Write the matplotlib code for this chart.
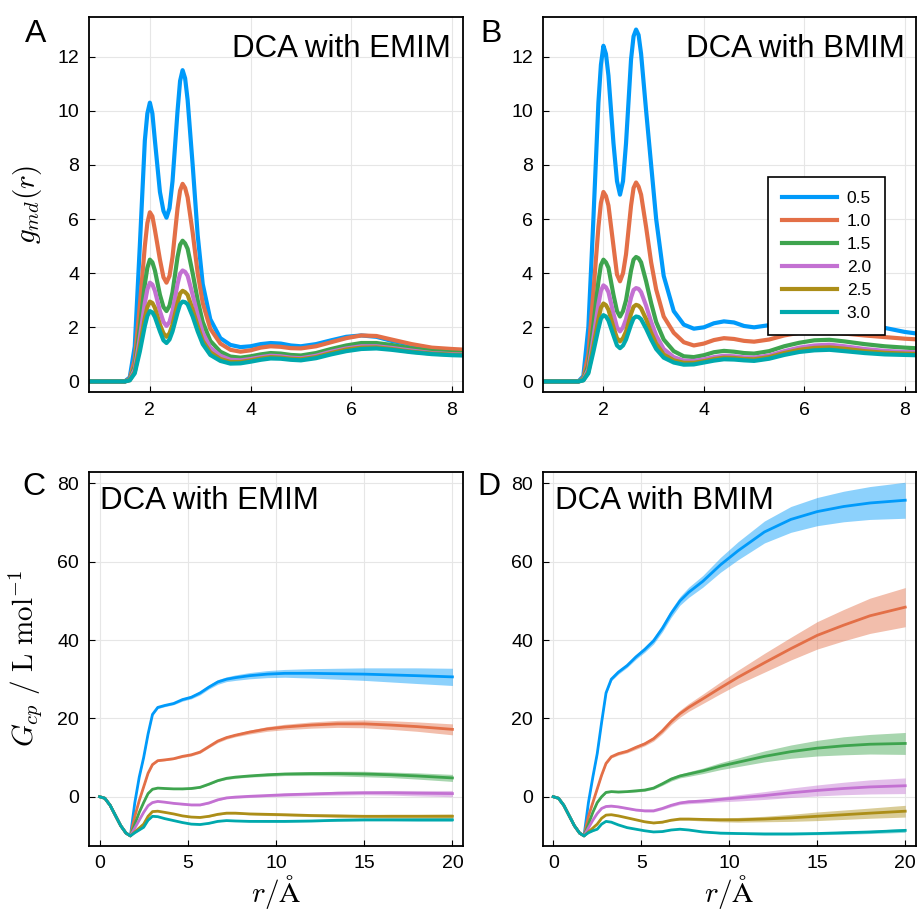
import matplotlib
matplotlib.use('Agg')
import matplotlib.pyplot as plt

plt.rcParams['font.family'] = ['Liberation Sans', 'DejaVu Sans']
plt.rcParams['mathtext.fontset'] = 'cm'

labels = ['0.5', '1.0', '1.5', '2.0', '2.5', '3.0']
colors = ['#009AFA', '#E36F47', '#3EA44E', '#C371D2', '#AC8E18', '#00A9AD']

# g(r) grid, panels A and B
r_top = [0.8, 1.4, 1.5, 1.6, 1.7, 1.8, 1.9, 1.95, 2.0, 2.05, 2.1, 2.2, 2.27, 2.33, 2.39, 2.45, 2.55, 2.6,
         2.65, 2.7, 2.75, 2.85, 2.95, 3.05, 3.2, 3.4, 3.6, 3.8, 4.0, 4.2, 4.4, 4.6, 4.8, 5.0,
         5.3, 5.6, 5.9, 6.2, 6.5, 6.8, 7.2, 7.6, 8.0, 8.2]

gA_05 = [0, 0, 0, 0.15, 1.3, 5.0, 8.9, 9.9, 10.3, 9.9, 8.9, 7.0, 6.3, 6.05, 6.4, 7.4, 10.0, 11.1, 11.5, 11.2, 10.4, 8.0, 5.4, 3.6, 2.3, 1.6, 1.35, 1.27, 1.3, 1.38, 1.42, 1.4, 1.33, 1.3, 1.38, 1.52, 1.65, 1.7, 1.65, 1.5, 1.35, 1.22, 1.15, 1.13]
gA_10 = [0, 0, 0, 0.1, 0.8, 2.8, 5.0, 5.85, 6.25, 6.1, 5.6, 4.5, 3.85, 3.65, 3.9, 4.6, 6.4, 7.05, 7.3, 7.15, 6.8, 5.5, 4.0, 2.9, 1.95, 1.4, 1.17, 1.1, 1.15, 1.25, 1.3, 1.28, 1.23, 1.22, 1.3, 1.45, 1.6, 1.7, 1.68, 1.55, 1.38, 1.25, 1.2, 1.18]
gA_15 = [0, 0, 0, 0.08, 0.55, 2.0, 3.6, 4.2, 4.5, 4.4, 4.1, 3.2, 2.75, 2.6, 2.8, 3.3, 4.6, 5.05, 5.2, 5.1, 4.9, 4.0, 3.0, 2.2, 1.5, 1.1, 0.92, 0.88, 0.93, 1.0, 1.05, 1.03, 0.98, 0.96, 1.05, 1.2, 1.33, 1.42, 1.42, 1.35, 1.22, 1.12, 1.07, 1.05]
gA_20 = [0, 0, 0, 0.06, 0.45, 1.6, 2.9, 3.4, 3.65, 3.58, 3.35, 2.6, 2.2, 2.05, 2.2, 2.6, 3.6, 3.98, 4.1, 4.05, 3.9, 3.2, 2.45, 1.8, 1.25, 0.95, 0.8, 0.78, 0.83, 0.9, 0.95, 0.93, 0.88, 0.86, 0.95, 1.1, 1.22, 1.3, 1.3, 1.24, 1.14, 1.05, 1.01, 1.0]
gA_25 = [0, 0, 0, 0.05, 0.35, 1.3, 2.35, 2.75, 2.95, 2.9, 2.72, 2.1, 1.78, 1.65, 1.78, 2.1, 2.9, 3.25, 3.35, 3.3, 3.2, 2.65, 2.05, 1.5, 1.08, 0.83, 0.72, 0.72, 0.78, 0.85, 0.9, 0.88, 0.84, 0.82, 0.9, 1.05, 1.18, 1.25, 1.26, 1.2, 1.1, 1.03, 0.99, 0.98]
gA_30 = [0, 0, 0, 0.04, 0.3, 1.1, 2.05, 2.42, 2.6, 2.55, 2.38, 1.85, 1.52, 1.42, 1.55, 1.85, 2.55, 2.85, 2.95, 2.93, 2.85, 2.4, 1.85, 1.38, 0.98, 0.76, 0.66, 0.67, 0.73, 0.8, 0.85, 0.84, 0.8, 0.78, 0.86, 1.0, 1.12, 1.2, 1.22, 1.17, 1.08, 1.01, 0.97, 0.96]

gB_05 = [0, 0, 0, 0.2, 2.0, 6.0, 10.3, 11.7, 12.4, 12.1, 11.3, 8.8, 7.4, 6.9, 7.4, 8.8, 11.9, 12.75, 13.0, 12.8, 12.1, 10.0, 8.0, 6.0, 3.9, 2.6, 2.1, 1.95, 2.0, 2.15, 2.22, 2.18, 2.05, 2.0, 2.08, 2.2, 2.3, 2.32, 2.28, 2.2, 2.08, 1.98, 1.83, 1.78]
gB_10 = [0, 0, 0, 0.12, 1.0, 3.3, 5.7, 6.6, 7.0, 6.85, 6.5, 5.0, 3.95, 3.7, 4.0, 4.7, 6.5, 7.15, 7.35, 7.2, 6.9, 5.7, 4.4, 3.4, 2.4, 1.8, 1.45, 1.33, 1.4, 1.53, 1.6, 1.57, 1.5, 1.47, 1.55, 1.7, 1.8, 1.85, 1.83, 1.77, 1.7, 1.64, 1.58, 1.56]
gB_15 = [0, 0, 0, 0.08, 0.6, 2.1, 3.7, 4.3, 4.5, 4.4, 4.2, 3.2, 2.6, 2.4, 2.6, 3.0, 4.1, 4.5, 4.6, 4.55, 4.4, 3.7, 2.9, 2.2, 1.55, 1.12, 0.93, 0.9, 0.97, 1.08, 1.13, 1.1, 1.05, 1.03, 1.12, 1.3, 1.43, 1.52, 1.54, 1.48, 1.38, 1.3, 1.25, 1.23]
gB_20 = [0, 0, 0, 0.06, 0.45, 1.6, 2.85, 3.35, 3.55, 3.48, 3.3, 2.5, 2.0, 1.85, 2.0, 2.3, 3.1, 3.38, 3.45, 3.42, 3.3, 2.8, 2.2, 1.7, 1.2, 0.9, 0.77, 0.76, 0.82, 0.9, 0.95, 0.93, 0.89, 0.88, 0.96, 1.12, 1.25, 1.33, 1.36, 1.3, 1.2, 1.13, 1.09, 1.08]
gB_25 = [0, 0, 0, 0.05, 0.35, 1.3, 2.3, 2.72, 2.88, 2.82, 2.65, 2.0, 1.6, 1.48, 1.6, 1.85, 2.5, 2.76, 2.83, 2.8, 2.7, 2.3, 1.8, 1.4, 1.0, 0.78, 0.69, 0.69, 0.75, 0.83, 0.88, 0.87, 0.83, 0.82, 0.9, 1.05, 1.17, 1.24, 1.26, 1.21, 1.12, 1.06, 1.03, 1.02]
gB_30 = [0, 0, 0, 0.04, 0.3, 1.1, 1.95, 2.32, 2.45, 2.4, 2.25, 1.7, 1.33, 1.23, 1.33, 1.55, 2.1, 2.33, 2.4, 2.38, 2.3, 1.95, 1.55, 1.2, 0.88, 0.7, 0.62, 0.63, 0.7, 0.77, 0.82, 0.81, 0.78, 0.76, 0.84, 0.98, 1.09, 1.15, 1.17, 1.12, 1.05, 1.0, 0.98, 0.97]

# KB integrals, panels C and D
r_bot = [0, 0.3, 0.6, 0.9, 1.2, 1.5, 1.75, 2.0, 2.25, 2.5, 2.75, 3.0, 3.3, 3.7, 4.2, 4.7, 5.2,
         5.7, 6.2, 6.7, 7.2, 7.7, 8.5, 9.5, 10.5, 12, 13.5, 15, 16.5, 18, 20]

GC_05 = [0, -0.4, -2.2, -4.8, -7.4, -9.3, -10.0, -1.5, 5, 10, 16, 21, 22.8, 23.3, 23.8, 24.8, 25.4, 26.5, 28, 29.3, 30.0, 30.4, 30.9, 31.3, 31.5, 31.5, 31.4, 31.3, 31.1, 30.9, 30.6]
GC_10 = [0, -0.4, -2.2, -4.8, -7.4, -9.3, -10.0, -5, -1, 2.5, 6, 8.2, 9.2, 9.4, 9.7, 10.3, 10.7, 11.4, 12.8, 14.2, 15.1, 15.7, 16.5, 17.3, 17.8, 18.3, 18.6, 18.6, 18.3, 17.9, 17.2]
GC_15 = [0, -0.4, -2.2, -4.8, -7.4, -9.3, -10.0, -7, -4, -1.5, 0.8, 1.9, 2.2, 2.1, 2.0, 2.0, 2.1, 2.4, 3.2, 4.1, 4.7, 5.0, 5.3, 5.6, 5.8, 5.9, 5.9, 5.8, 5.6, 5.3, 4.8]
GC_20 = [0, -0.4, -2.2, -4.8, -7.4, -9.3, -10.0, -8, -6, -4, -2.3, -1.5, -1.2, -1.4, -1.7, -1.9, -2.1, -2.1, -1.6, -0.8, -0.3, -0.1, 0.1, 0.3, 0.5, 0.7, 0.9, 1.0, 1.0, 0.9, 0.8]
GC_25 = [0, -0.4, -2.2, -4.8, -7.4, -9.3, -10.0, -9, -8, -7, -5, -3.8, -3.7, -4.0, -4.4, -4.9, -5.2, -5.3, -5.0, -4.5, -4.2, -4.2, -4.4, -4.5, -4.6, -4.8, -4.9, -5.0, -5.0, -5.0, -5.0]
GC_30 = [0, -0.4, -2.2, -4.8, -7.4, -9.3, -10.0, -9.2, -8.5, -7.8, -6, -5.0, -5.1, -5.6, -6.1, -6.6, -7.0, -7.1, -6.8, -6.3, -6.1, -6.2, -6.3, -6.3, -6.3, -6.2, -6.0, -5.9, -5.9, -5.9, -5.9]

eC_05 = [0, 0, 0, 0, 0, 0, 0, 0.1, 0.2, 0.3, 0.3, 0.3, 0.3, 0.3, 0.3, 0.4, 0.4, 0.5, 0.5, 0.6, 0.6, 0.7, 0.8, 0.9, 1.0, 1.2, 1.4, 1.6, 1.8, 2.0, 2.2]
eC_10 = [0, 0, 0, 0, 0, 0, 0, 0.1, 0.1, 0.2, 0.2, 0.2, 0.2, 0.2, 0.2, 0.3, 0.3, 0.3, 0.3, 0.4, 0.4, 0.4, 0.5, 0.6, 0.7, 0.8, 0.9, 1.0, 1.1, 1.2, 1.4]
eC_15 = [0, 0, 0, 0, 0, 0, 0, 0.1, 0.1, 0.1, 0.1, 0.1, 0.1, 0.1, 0.1, 0.2, 0.2, 0.2, 0.2, 0.2, 0.3, 0.3, 0.3, 0.4, 0.4, 0.5, 0.6, 0.7, 0.7, 0.8, 0.9]
eC_20 = [0, 0, 0, 0, 0, 0, 0, 0.1, 0.1, 0.1, 0.1, 0.1, 0.1, 0.1, 0.1, 0.2, 0.2, 0.2, 0.2, 0.2, 0.2, 0.3, 0.3, 0.3, 0.4, 0.4, 0.5, 0.5, 0.6, 0.7, 0.8]
eC_25 = [0, 0, 0, 0, 0, 0, 0, 0.1, 0.1, 0.1, 0.1, 0.1, 0.1, 0.1, 0.1, 0.1, 0.1, 0.1, 0.2, 0.2, 0.2, 0.2, 0.2, 0.3, 0.3, 0.3, 0.4, 0.4, 0.5, 0.5, 0.6]
eC_30 = [0, 0, 0, 0, 0, 0, 0, 0.1, 0.1, 0.1, 0.1, 0.1, 0.1, 0.1, 0.1, 0.1, 0.1, 0.1, 0.1, 0.1, 0.1, 0.1, 0.1, 0.2, 0.2, 0.2, 0.3, 0.3, 0.3, 0.4, 0.4]

GD_05 = [0, -0.4, -2.2, -4.8, -7.4, -9.3, -10.0, -1.5, 5, 11, 19, 26.5, 30.0, 31.8, 33.5, 35.7, 37.6, 39.8, 43.0, 46.8, 50.0, 52.2, 55.0, 59.2, 62.8, 67.6, 70.8, 72.8, 74.1, 75.0, 75.7]
GD_10 = [0, -0.4, -2.2, -4.8, -7.4, -9.3, -10.0, -5, -1.5, 2, 5.5, 8.5, 10.2, 11.0, 11.6, 12.6, 13.5, 14.8, 16.8, 19.2, 21.2, 22.8, 25.0, 27.8, 30.5, 34.2, 37.8, 41.2, 43.8, 46.2, 48.4]
GD_15 = [0, -0.4, -2.2, -4.8, -7.4, -9.3, -10.0, -7, -4, -1.5, 0, 1.1, 1.3, 1.2, 1.3, 1.5, 1.7, 2.2, 3.3, 4.5, 5.3, 5.8, 6.6, 7.8, 8.8, 10.3, 11.5, 12.4, 13.0, 13.4, 13.6]
GD_20 = [0, -0.4, -2.2, -4.8, -7.4, -9.3, -10.0, -8, -6, -4.3, -3.0, -2.5, -2.4, -2.6, -3.0, -3.4, -3.6, -3.6, -3.0, -2.2, -1.6, -1.3, -1.1, -0.7, -0.3, 0.3, 1.0, 1.6, 2.1, 2.5, 2.8]
GD_25 = [0, -0.4, -2.2, -4.8, -7.4, -9.3, -10.0, -9, -8, -7, -5.5, -4.7, -4.6, -4.9, -5.4, -5.9, -6.4, -6.7, -6.5, -6.0, -5.7, -5.7, -5.8, -5.9, -5.9, -5.7, -5.4, -5.0, -4.6, -4.2, -3.7]
GD_30 = [0, -0.4, -2.2, -4.8, -7.4, -9.3, -10.0, -9.2, -8.7, -8.3, -7.0, -6.3, -6.5, -7.2, -7.9, -8.3, -8.7, -9.0, -8.9, -8.5, -8.3, -8.5, -9.0, -9.3, -9.4, -9.5, -9.5, -9.4, -9.2, -9.0, -8.6]

eD_05 = [0, 0, 0, 0, 0, 0, 0, 0.2, 0.3, 0.4, 0.4, 0.4, 0.4, 0.5, 0.5, 0.6, 0.7, 0.8, 0.9, 1.0, 1.1, 1.3, 1.5, 1.9, 2.3, 2.8, 3.3, 3.6, 3.9, 4.2, 4.6]
eD_10 = [0, 0, 0, 0, 0, 0, 0, 0.1, 0.2, 0.3, 0.3, 0.3, 0.3, 0.4, 0.4, 0.5, 0.5, 0.6, 0.7, 0.8, 0.9, 1.0, 1.2, 1.5, 1.8, 2.4, 2.9, 3.5, 4.0, 4.5, 5.0]
eD_15 = [0, 0, 0, 0, 0, 0, 0, 0.1, 0.1, 0.2, 0.2, 0.2, 0.2, 0.2, 0.2, 0.3, 0.3, 0.3, 0.4, 0.5, 0.5, 0.6, 0.7, 0.9, 1.1, 1.4, 1.7, 2.0, 2.3, 2.5, 2.8]
eD_20 = [0, 0, 0, 0, 0, 0, 0, 0.1, 0.1, 0.1, 0.1, 0.2, 0.2, 0.2, 0.2, 0.2, 0.3, 0.3, 0.3, 0.4, 0.4, 0.5, 0.5, 0.6, 0.8, 1.0, 1.2, 1.4, 1.6, 1.8, 2.0]
eD_25 = [0, 0, 0, 0, 0, 0, 0, 0.1, 0.1, 0.1, 0.1, 0.1, 0.1, 0.1, 0.1, 0.1, 0.2, 0.2, 0.2, 0.2, 0.3, 0.3, 0.4, 0.5, 0.6, 0.7, 0.9, 1.1, 1.2, 1.3, 1.5]
eD_30 = [0, 0, 0, 0, 0, 0, 0, 0.1, 0.1, 0.1, 0.1, 0.1, 0.1, 0.1, 0.1, 0.1, 0.1, 0.1, 0.1, 0.1, 0.1, 0.1, 0.1, 0.2, 0.2, 0.3, 0.3, 0.3, 0.4, 0.4, 0.5]

gA = [gA_05, gA_10, gA_15, gA_20, gA_25, gA_30]
gB = [gB_05, gB_10, gB_15, gB_20, gB_25, gB_30]
GC = [GC_05, GC_10, GC_15, GC_20, GC_25, GC_30]
GD = [GD_05, GD_10, GD_15, GD_20, GD_25, GD_30]
eC = [eC_05, eC_10, eC_15, eC_20, eC_25, eC_30]
eD = [eD_05, eD_10, eD_15, eD_20, eD_25, eD_30]

fig = plt.figure(figsize=(9.19, 9.10), dpi=100)
axA = fig.add_axes([0.0968, 0.5692, 0.407, 0.412])
axB = fig.add_axes([0.5905, 0.5692, 0.406, 0.412])
axC = fig.add_axes([0.0968, 0.0707, 0.407, 0.411])
axD = fig.add_axes([0.5905, 0.0707, 0.406, 0.411])


def style(ax):
    ax.grid(True, color='#e6e6e6', linewidth=0.8)
    ax.set_axisbelow(True)
    ax.tick_params(direction='in', length=4, width=0.8, labelsize=14, pad=7)
    for s in ax.spines.values():
        s.set_linewidth(1.3)


for ax, data in [(axA, gA), (axB, gB)]:
    for i in range(6):
        ax.plot(r_top, data[i], color=colors[i], lw=3.0, label=labels[i],
                solid_joinstyle='round')
    ax.set_xlim(0.79, 8.22)
    ax.set_ylim(-0.39, 13.46)
    ax.set_xticks([2, 4, 6, 8])
    ax.set_yticks([0, 2, 4, 6, 8, 10, 12])
    style(ax)

for ax, data, err in [(axC, GC, eC), (axD, GD, eD)]:
    for i in range(6):
        lo = [v - e for v, e in zip(data[i], err[i])]
        hi = [v + e for v, e in zip(data[i], err[i])]
        ax.fill_between(r_bot, lo, hi, color=colors[i], alpha=0.45, lw=0)
        ax.plot(r_bot, data[i], color=colors[i], lw=2.0)
    ax.set_xlim(-0.6, 20.6)
    ax.set_ylim(-12.5, 83.0)
    ax.set_xticks([0, 5, 10, 15, 20])
    ax.set_yticks([0, 20, 40, 60, 80])
    style(ax)
    ax.set_xlabel(r'$r/\mathrm{\AA}$', fontsize=21)
    ax.xaxis.set_label_coords(0.5, -0.072)

axA.set_ylabel(r'$g_{md}(r)$', fontsize=21)
axA.yaxis.set_label_coords(-0.12, 0.5)
axC.set_ylabel(r'$G_{cp}\ /\ \mathrm{L\ mol}^{-1}$', fontsize=21)
axC.yaxis.set_label_coords(-0.12, 0.5)

axA.text(0.968, 0.893, 'DCA with EMIM', transform=axA.transAxes, ha='right', va='baseline', fontsize=22.5)
axB.text(0.970, 0.893, 'DCA with BMIM', transform=axB.transAxes, ha='right', va='baseline', fontsize=22.5)
axC.text(0.029, 0.900, 'DCA with EMIM', transform=axC.transAxes, ha='left', va='baseline', fontsize=22.5)
axD.text(0.033, 0.900, 'DCA with BMIM', transform=axD.transAxes, ha='left', va='baseline', fontsize=22.5)

for lab, x, y in [('A', 25, 42), ('B', 480, 42), ('C', 22, 495), ('D', 477, 495)]:
    fig.text(x / 919, 1 - y / 910, lab, fontsize=23, ha='left', va='baseline')

leg = axB.legend(loc='upper left', bbox_to_anchor=(0.6035, 0.573), borderaxespad=0,
                 fontsize=12.5, handlelength=3.2, handletextpad=0.55, labelspacing=0.45,
                 fancybox=False, framealpha=1, edgecolor='black', borderpad=0.8)
leg.get_frame().set_linewidth(1.2)

fig.savefig('out.png', dpi=100)
